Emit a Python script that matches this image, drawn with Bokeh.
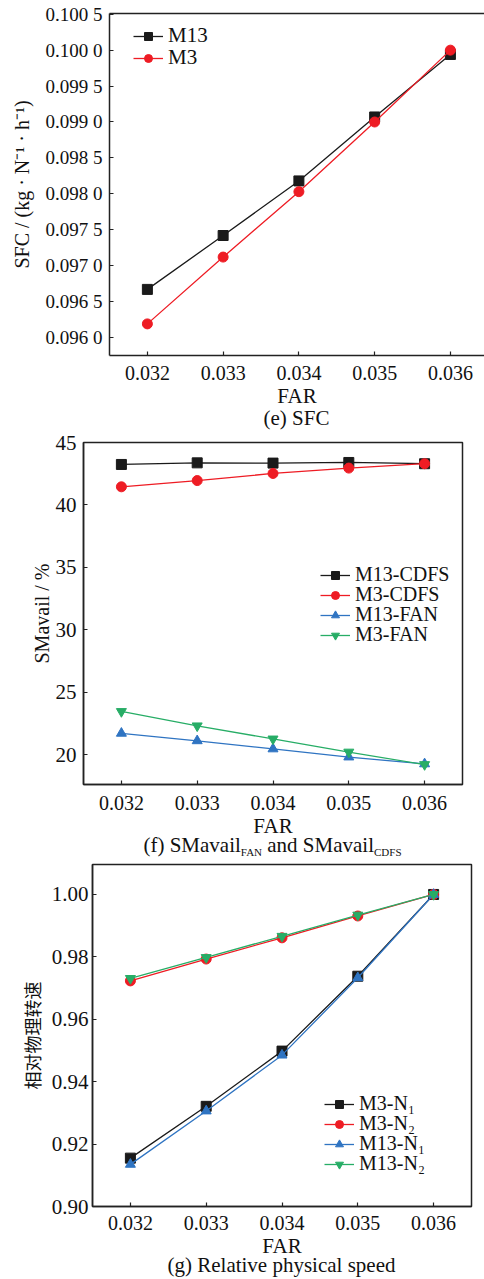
from bokeh.plotting import figure
from bokeh.models import Range1d, FixedTicker, LinearAxis, Legend, LegendItem, Div
from bokeh.embed import file_html
from bokeh.resources import INLINE

# ---------------- data ----------------
far = [0.032, 0.033, 0.034, 0.035, 0.036]
far_labels = ["0.032", "0.033", "0.034", "0.035", "0.036"]

sfc_m13 = [0.09667, 0.09742, 0.09818, 0.09907, 0.09994]
sfc_m3 = [0.09619, 0.09712, 0.09803, 0.09900, 0.10000]
sfc_yticks = [0.0960, 0.0965, 0.0970, 0.0975, 0.0980, 0.0985, 0.0990, 0.0995, 0.1000, 0.1005]
sfc_ylabels = ["0.096 0", "0.096 5", "0.097 0", "0.097 5", "0.098 0",
               "0.098 5", "0.099 0", "0.099 5", "0.100 0", "0.100 5"]

sm_m13_cdfs = [43.24, 43.37, 43.35, 43.40, 43.30]
sm_m3_cdfs = [41.45, 41.95, 42.52, 42.95, 43.30]
sm_m13_fan = [21.70, 21.10, 20.45, 19.80, 19.25]
sm_m3_fan = [23.45, 22.30, 21.25, 20.20, 19.20]
sm_yticks = [20, 25, 30, 35, 40, 45]
sm_ylabels = ["20", "25", "30", "35", "40", "45"]

n_m3_n1 = [0.9155, 0.9321, 0.9498, 0.9738, 1.0000]
n_m3_n2 = [0.9723, 0.9793, 0.9861, 0.9931, 1.0000]
n_m13_n1 = [0.9135, 0.9306, 0.9485, 0.9733, 1.0000]
n_m13_n2 = [0.9731, 0.9798, 0.9866, 0.9934, 1.0000]
n_yticks = [0.90, 0.92, 0.94, 0.96, 0.98, 1.00]
n_ylabels = ["0.90", "0.92", "0.94", "0.96", "0.98", "1.00"]

BLACK = "#1a1a1a"
RED = "#ee1c24"
BLUE = "#2f74c2"
GREEN = "#27ad66"
AX = "#222222"
SERIF = "Liberation Serif"


def make_fig(width, height, left, right, top, bottom, xr, yr, yticks, ylabels,
             ylabel, ytick_size, ylabel_font=SERIF, ylabel_size="20px",
             ylabel_standoff=8, ytick_standoff=7, xtick_standoff=10, outline=True):
    p = figure(width=width, height=height, x_range=Range1d(*xr), y_range=Range1d(*yr),
               output_backend="svg", toolbar_location=None,
               min_border_left=left, min_border_right=right,
               min_border_top=top, min_border_bottom=bottom,
               background_fill_color="white", border_fill_color="white")
    p.xgrid.visible = False
    p.ygrid.visible = False
    if outline:
        p.outline_line_color = AX
        p.outline_line_width = 1.5
        p.outline_line_alpha = 1.0
    else:
        p.outline_line_color = None
    p.xaxis.ticker = FixedTicker(ticks=far)
    p.xaxis.major_label_overrides = dict(zip(far, far_labels))
    p.yaxis.ticker = FixedTicker(ticks=yticks)
    p.yaxis.major_label_overrides = dict(zip(yticks, ylabels))
    for ax in list(p.xaxis) + list(p.yaxis):
        ax.major_tick_in = 4
        ax.major_tick_out = 0
        ax.minor_tick_line_color = None
        ax.axis_line_width = 1.5
        ax.axis_line_color = AX
        ax.major_tick_line_color = AX
        ax.major_tick_line_width = 1.2
        ax.major_label_text_font = SERIF
        ax.major_label_text_color = "#111111"
        ax.axis_label_text_font = SERIF
        ax.axis_label_text_font_style = "normal"
        ax.axis_label_text_color = "#111111"
        ax.axis_label_text_font_size = "21px"
    p.xaxis.major_label_text_font_size = "20px"
    p.xaxis.major_label_standoff = xtick_standoff
    p.xaxis.axis_label = "FAR"
    p.xaxis.axis_label_standoff = 1
    p.yaxis.major_label_text_font_size = ytick_size
    p.yaxis.major_label_standoff = ytick_standoff
    p.yaxis.axis_label = ylabel
    p.yaxis.axis_label_text_font = ylabel_font
    p.yaxis.axis_label_text_font_size = ylabel_size
    p.yaxis.axis_label_standoff = ylabel_standoff
    return p


def series(p, x, y, color, marker, size):
    r1 = p.line(x, y, line_color=color, line_width=1.3)
    r2 = p.scatter(x, y, marker=marker, size=size, fill_color=color, line_color=color)
    return [r1, r2]


def add_legend_rows(p, items, x, y_bottoms, font_size):
    # one single-row legend per entry, so the row pitch matches the reference
    for (lab, rs), yb in zip(items, y_bottoms):
        lg = Legend(items=[LegendItem(label=lab, renderers=rs)],
                    location=(x, yb), border_line_color=None, background_fill_alpha=0,
                    padding=0, margin=0, spacing=0, glyph_width=30, glyph_height=20,
                    label_height=20, label_standoff=5, label_text_font=SERIF,
                    label_text_font_size=font_size, label_text_color="#111111")
        p.add_layout(lg)


def caption(html, frame_left, frame_width, height, line_height):
    return Div(text=(f'<div style="margin-left:{frame_left}px;width:{frame_width}px;'
                     f'text-align:center;font-family:\'Liberation Serif\';font-size:21px;'
                     f'line-height:{line_height}px;color:#111;white-space:nowrap">{html}</div>'),
               width=484, height=height, margin=0,
               styles={"overflow": "visible", "display": "block"})


# ---------------- (e) SFC ----------------
p1 = make_fig(484, 410, 109, 0, 13, 55, (0.0315, 0.03645), (0.09575, 0.10051),
              sfc_yticks, sfc_ylabels, "SFC / (kg · N⁻¹ · h⁻¹)", "19px",
              ylabel_standoff=10, ytick_standoff=7, xtick_standoff=10, outline=False)
top_axis = LinearAxis(ticker=FixedTicker(ticks=[]), axis_line_width=1.5, axis_line_color=AX,
                      major_tick_line_color=None, minor_tick_line_color=None,
                      major_label_standoff=0)
p1.add_layout(top_axis, "above")
r_m13 = series(p1, far, sfc_m13, BLACK, "square", 10)
r_m3 = series(p1, far, sfc_m3, RED, "circle", 10)
add_legend_rows(p1, [("M13", r_m13), ("M3", r_m3)], 24, [307, 285], "21px")
cap1 = caption("(e) SFC", 109, 375, 20, 16)

# ---------------- (f) SMavail ----------------
p2 = make_fig(484, 410, 83, 22, 12, 56, (0.0315, 0.0365), (17.6, 45.0),
              sm_yticks, sm_ylabels, "SMavail / %", "21px",
              ylabel_standoff=0, ytick_standoff=7, xtick_standoff=11)
r_a = series(p2, far, sm_m13_cdfs, BLACK, "square", 10)
r_b = series(p2, far, sm_m3_cdfs, RED, "circle", 10)
r_c = series(p2, far, sm_m13_fan, BLUE, "triangle", 10)
r_d = series(p2, far, sm_m3_fan, GREEN, "inverted_triangle", 10)
add_legend_rows(p2, [("M13-CDFS", r_a), ("M3-CDFS", r_b), ("M13-FAN", r_c), ("M3-FAN", r_d)],
                237, [198, 178, 158, 138], "20px")
cap2 = caption('(f) SMavail<span style="font-size:11px;vertical-align:-4px">FAN</span> and '
               'SMavail<span style="font-size:11px;vertical-align:-4px">CDFS</span>',
               83, 379, 18, 10)

# ---------------- (g) Relative physical speed ----------------
p3 = make_fig(484, 402, 92, 13, 6, 54, (0.0315, 0.0365), (0.90, 1.0096),
              n_yticks, n_ylabels, "相对物理转速", "21px",
              ylabel_font="Noto Sans CJK SC", ylabel_size="18px",
              ylabel_standoff=4, ytick_standoff=4, xtick_standoff=9)
g1 = series(p3, far, n_m3_n1, BLACK, "square", 10)
g2 = series(p3, far, n_m3_n2, RED, "circle", 10)
g3 = series(p3, far, n_m13_n1, BLUE, "triangle", 10)
g4 = series(p3, far, n_m13_n2, GREEN, "inverted_triangle", 10)
add_legend_rows(p3, [("M3-N₁", g1), ("M3-N₂", g2), ("M13-N₁", g3), ("M13-N₂", g4)],
                232, [91, 71, 51, 31], "20px")
cap3 = caption("(g) Relative physical speed", 92, 379, 19, 10)

with open("out.html", "w") as f:
    f.write(file_html([p1, cap1, p2, cap2, p3, cap3], INLINE))
